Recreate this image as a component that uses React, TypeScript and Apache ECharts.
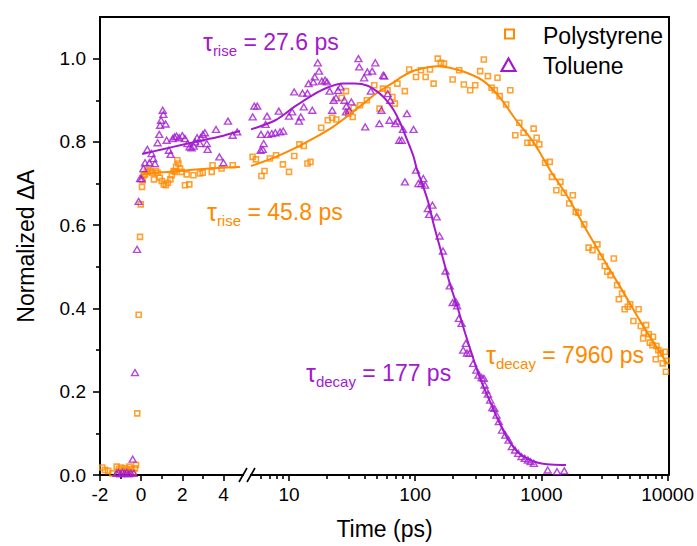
import React, { useEffect, useRef } from 'react';
import * as echarts from 'echarts';

const ORANGE = '#FF8A00';
const PURPLE = '#A21ACF';
const FONT = 'Liberation Sans, Arial, sans-serif';

// time at which the axis switches from linear to logarithmic
const BREAK_T = 5;

// Polystyrene data (time in ps, normalized ΔA)
const psTime = [
  -1.89, -1.76, -1.6, -1.4, -1.19, -1.08, -0.98, -0.88, -0.78, -0.68, -0.58, -0.48, -0.38, -0.3, -0.25,
  -0.19, -0.12, -0.055, -0.02, 0.04, 0.07, 0.12, 0.19, 0.27, 0.35, 0.45, 0.55, 0.62, 0.72, 0.8, 0.9,
  1.0, 1.1, 1.2, 1.3, 1.42, 1.49, 1.58, 1.65, 1.7, 1.76, 1.81, 1.89, 1.97, 2.13, 2.21, 2.34, 2.54,
  2.86, 2.99, 3.43, 3.47, 3.91, 4.45,
  5.15, 5.47, 6.05, 6.4, 7.05, 7.9, 8.95, 10.0, 11.0, 12.1, 13.1, 14.0, 14.8, 18.0, 20.3, 22.0, 23.7,
  26.1, 28.3, 29.5, 32.0, 32.5, 36.6, 41.4, 47.4, 52.2, 55.6, 60.4, 66, 69, 72.3, 82.8, 89.6, 101.5,
  111, 121, 131, 140, 151, 160, 169, 198, 223, 243, 273, 299, 327, 350, 377, 403, 428, 449, 467, 526,
  567, 621, 669, 722, 775, 826, 868, 917, 963, 1071, 1165, 1213, 1314, 1415, 1507, 1663, 1775, 1871,
  1967, 2183, 2365, 2542, 2780, 2955, 3175, 3330, 3530, 3750, 3980, 4110, 4360, 4570, 4840, 5050,
  5360, 5890, 6130, 6400, 6500, 6760, 7100, 7230, 7580, 7660, 8060, 8160, 8450, 8820, 9150, 9540,
  9700, 9850,
];
const psValue = [
  0.018, 0.012, 0.01, 0.004, 0.02, 0.014, 0.018, 0.01, 0.016, 0.012, 0.02, 0.014, 0.006, 0.016, 0.024,
  0.148, 0.385, 0.572, 0.65, 0.692, 0.708, 0.72, 0.722, 0.728, 0.732, 0.73, 0.726, 0.71, 0.73, 0.726, 0.714,
  0.706, 0.698, 0.696, 0.702, 0.71, 0.72, 0.73, 0.728, 0.74, 0.756, 0.748, 0.736, 0.728, 0.696, 0.722, 0.698, 0.72,
  0.724, 0.726, 0.728, 0.744, 0.736, 0.744,
  0.764, 0.758, 0.718, 0.73, 0.76, 0.768, 0.746, 0.728, 0.766, 0.794, 0.79, 0.748, 0.752, 0.834, 0.852, 0.858, 0.854,
  0.906, 0.922, 0.868, 0.86, 0.882, 0.888, 0.9, 0.936, 0.88, 0.928, 0.924, 0.908, 0.892, 0.94, 0.922, 0.974, 0.956,
  0.972, 0.956, 0.974, 0.94, 1.0, 0.99, 0.988, 0.95, 0.972, 0.938, 0.924, 0.936, 0.97, 0.998, 0.958, 0.93, 0.924, 0.954, 0.91, 0.89,
  0.924, 0.816, 0.846, 0.822, 0.798, 0.798, 0.832, 0.81, 0.794, 0.75, 0.752, 0.716, 0.684, 0.704, 0.678, 0.652, 0.672, 0.632,
  0.63, 0.602, 0.546, 0.54, 0.554, 0.524, 0.502, 0.488, 0.48, 0.52, 0.456, 0.422, 0.436, 0.398, 0.404, 0.41,
  0.37, 0.398, 0.358, 0.328, 0.342, 0.36, 0.338, 0.318, 0.312, 0.332, 0.278, 0.31, 0.3, 0.292, 0.268, 0.296,
  0.248, 0.274,
];

// Toluene data
const tolTime = [
  -1.2, -1.1, -1.0, -0.9, -0.8, -0.7, -0.6, -0.5, -0.41, -0.36, -0.3, -0.2, -0.12, -0.05, 0.02, 0.11,
  0.19, 0.3, 0.4, 0.51, 0.59, 0.67, 0.8, 0.88, 0.92, 0.97, 1.05, 1.08, 1.19, 1.24, 1.35, 1.43, 1.53,
  1.62, 1.72, 1.85, 2.0, 2.13, 2.25, 2.35, 2.45, 2.55, 2.62, 2.72, 2.86, 2.9, 3.0, 3.1, 3.19, 3.23,
  3.64, 3.8, 4.0, 4.22, 4.45, 4.67,
  5.16, 5.31, 5.6, 5.96, 6.0, 6.2, 6.3, 6.53, 6.7, 6.8, 7.3, 7.8, 8.3, 8.5, 9.0, 10.0, 10.6, 11.0,
  12.0, 12.4, 12.8, 13.1, 14.0, 14.3, 15.3, 15.6, 16.0, 16.9, 17.3, 18.2, 19.3, 20.0, 21.0, 22.0,
  22.6, 23.6, 24.5, 25.6, 27.5, 28.3, 28.5, 30.0, 31.2, 35.5, 36.0, 39.4, 40.2, 41.8, 44.5, 45.6,
  48.3, 52.0, 54.0, 55.8, 56.8, 60.6, 62.6, 63.5, 69.5, 72.0, 74.8, 78.3, 80.0, 82.9, 86.0, 97.1,
  101.5, 106, 112, 116, 120, 126, 129, 137, 148, 156, 166, 174, 188, 198, 210, 215, 222, 233, 240,
  252, 257, 269, 288, 305, 318, 336, 350, 355, 364, 377, 393, 409, 424, 441, 460, 488, 518, 550,
  583, 618, 655, 695, 738, 783, 821, 871, 1122, 1330, 1517,
];
const tolValue = [
  0.004, 0.006, 0.003, 0.006, 0.004, 0.006, 0.003, 0.005, 0.038, 0.004, 0.246, 0.542, 0.657, 0.712, 0.712, 0.736,
  0.75, 0.782, 0.75, 0.772, 0.76, 0.748, 0.798, 0.818, 0.84, 0.852, 0.876, 0.866, 0.843, 0.804, 0.78, 0.77, 0.808,
  0.812, 0.814, 0.81, 0.815, 0.808, 0.796, 0.788, 0.786, 0.79, 0.8, 0.81, 0.796, 0.81, 0.818, 0.822, 0.796, 0.782,
  0.83, 0.764, 0.75, 0.85, 0.816, 0.824,
  0.86, 0.886, 0.886, 0.78, 0.818, 0.782, 0.796, 0.842, 0.862, 0.818, 0.82, 0.822, 0.874, 0.824, 0.826, 0.862, 0.872, 0.92,
  0.85, 0.86, 0.917, 0.884, 0.917, 0.94, 0.876, 0.944, 0.956, 0.99, 0.97, 0.946, 0.948, 0.944, 0.922, 0.876,
  0.9, 0.906, 0.924, 0.932, 0.9, 0.872, 0.886, 0.876, 0.896, 1.0, 0.98, 0.954, 0.836, 0.968, 0.922, 0.97,
  0.99, 0.844, 0.876, 0.96, 0.958, 0.916, 0.852, 0.9, 0.844, 0.85, 0.804, 0.804, 0.83, 0.704, 0.868, 0.83,
  0.732, 0.7, 0.7, 0.712, 0.696, 0.64, 0.626, 0.648, 0.62, 0.574, 0.538, 0.49, 0.454, 0.414, 0.416, 0.406, 0.376, 0.364, 0.3,
  0.316, 0.293, 0.292, 0.268, 0.252, 0.24, 0.234, 0.232, 0.216, 0.204, 0.194, 0.18, 0.162, 0.16, 0.144, 0.128, 0.108, 0.096, 0.084,
  0.068, 0.06, 0.052, 0.044, 0.04, 0.036, 0.032, 0.028, 0.012, 0.008, 0.01,
];

// Fit curves
const psFitTime = [
  0.05, 1, 2, 3, 4, 4.8,
  5, 7, 9, 12, 16, 22, 30, 40, 50, 65, 80, 100, 150, 188, 256, 349, 465, 632, 861, 1000, 1173, 1600,
  2180, 3000, 4360, 6000, 8000, 10000,
];
const psFitValue = [
  0.722, 0.727, 0.731, 0.735, 0.738, 0.74,
  0.742, 0.758, 0.772, 0.79, 0.81, 0.835, 0.865, 0.895, 0.918, 0.94, 0.958, 0.972, 0.982, 0.978, 0.966, 0.946, 0.908, 0.852, 0.8, 0.768, 0.732, 0.67,
  0.598, 0.526, 0.444, 0.372, 0.312, 0.266,
];
const tolFitTime = [
  0.05, 1, 2, 3, 4, 4.8,
  5, 7.8, 11, 15.3, 20, 27, 33, 42, 52.5, 60, 67.7, 76, 86, 97, 103, 115, 127, 139, 162, 188, 218,
  240, 280, 323, 387, 454, 539, 644, 771, 925, 1110, 1566,
];
const tolFitValue = [
  0.771, 0.782, 0.793, 0.804, 0.815, 0.826,
  0.83, 0.852, 0.884, 0.912, 0.93, 0.94, 0.94, 0.935, 0.916, 0.898, 0.876, 0.846, 0.806, 0.765, 0.735, 0.695, 0.655, 0.606, 0.532, 0.46, 0.4,
  0.356, 0.292, 0.236, 0.18, 0.132, 0.088, 0.056, 0.04, 0.03, 0.026, 0.024,
];

// Axis ticks
const linearTicks = [-2, 0, 2, 4];
const linearMinorTicks = [-1, 1, 3];
const logTicks = [10, 100, 1000, 10000];
const logMinorTicks = [6, 7, 8, 9, 20, 30, 40, 50, 60, 70, 80, 90, 200, 300, 400, 500, 600, 700, 800, 900,
  2000, 3000, 4000, 5000, 6000, 7000, 8000, 9000];
const yTicks = [0, 0.2, 0.4, 0.6, 0.8, 1.0];
const yMinorTicks = [0.1, 0.3, 0.5, 0.7, 0.9];

const pairs = (t: number[], v: number[]) => t.map((x, i) => [x, v[i]]);
const linPart = (t: number[], v: number[]) => pairs(t, v).filter((p) => p[0] < BREAK_T);
const logPart = (t: number[], v: number[]) => pairs(t, v).filter((p) => p[0] >= BREAK_T);

const axisLineStyle = { color: '#000', width: 2 };
const tickLine = { color: '#000', width: 1.6 };
const labelStyle = { color: '#000', fontSize: 19, fontFamily: FONT };
const MINOR_LEN = 4;

function buildOption(): any {
  const psMarker = {
    type: 'scatter',
    name: 'Polystyrene',
    symbol: 'rect',
    symbolSize: 5,
    itemStyle: { color: 'rgba(0,0,0,0)', borderColor: ORANGE, borderWidth: 1.6 },
    silent: true,
    z: 2,
  };
  const tolMarker = {
    type: 'scatter',
    name: 'Toluene',
    symbol: 'triangle',
    symbolSize: [7, 6],
    itemStyle: { color: 'rgba(0,0,0,0)', borderColor: PURPLE, borderWidth: 1.4 },
    silent: true,
    z: 2,
  };
  const fitLine = (name: string, color: string) => ({
    type: 'line',
    name,
    showSymbol: false,
    symbol: 'none',
    smooth: 0.3,
    lineStyle: { color, width: 2 },
    silent: true,
    z: 3,
  });

  const tauText = (x: number, y: number, sub: string, rest: string, color: string) => ({
    type: 'text',
    x,
    y,
    silent: true,
    style: {
      text: `{t|τ}{s|${sub}}{m| ${rest}}`,
      align: 'left',
      verticalAlign: 'middle',
      rich: {
        t: { fontSize: 25, lineHeight: 32, fill: color, fontFamily: FONT, verticalAlign: 'middle' },
        s: { fontSize: 15, lineHeight: 18, fill: color, fontFamily: FONT, verticalAlign: 'bottom' },
        m: { fontSize: 23, lineHeight: 32, fill: color, fontFamily: FONT, verticalAlign: 'middle' },
      },
    },
  });

  const hidden = { axisTick: { show: false }, axisLabel: { show: false }, splitLine: { show: false } };

  return {
    animation: false,
    backgroundColor: '#fff',
    grid: [
      { left: 100, top: 17, width: 143, height: 458 },
      { left: 251, top: 17, width: 418, height: 458 },
      { left: 100, top: 17, width: 569, height: 458 },
    ],
    xAxis: [
      {
        gridIndex: 0, type: 'value', min: -2, max: 4.95, interval: 2, position: 'bottom',
        axisLine: { onZero: false, lineStyle: axisLineStyle },
        axisTick: { customValues: linearTicks, length: 6, lineStyle: tickLine },
        axisLabel: { customValues: linearTicks, margin: 10, ...labelStyle, formatter: (v: number) => String(v) },
        splitLine: { show: false },
      },
      {
        gridIndex: 0, type: 'value', min: -2, max: 4.95, interval: 2, position: 'bottom',
        axisLine: { onZero: false, lineStyle: axisLineStyle },
        axisTick: { customValues: linearMinorTicks, length: MINOR_LEN, lineStyle: tickLine },
        axisLabel: { show: false },
        splitLine: { show: false },
      },
      {
        gridIndex: 1, type: 'log', logBase: 10, min: 5, max: 10000, position: 'bottom',
        axisLine: { onZero: false, lineStyle: axisLineStyle },
        axisTick: { customValues: logTicks, length: 6, lineStyle: tickLine },
        axisLabel: { customValues: logTicks, margin: 10, ...labelStyle, formatter: (v: number) => String(Math.round(v)) },
        splitLine: { show: false },
      },
      {
        gridIndex: 1, type: 'log', logBase: 10, min: 5, max: 10000, position: 'bottom',
        axisLine: { onZero: false, lineStyle: axisLineStyle },
        axisTick: { customValues: logMinorTicks, length: MINOR_LEN, lineStyle: tickLine },
        axisLabel: { show: false },
        splitLine: { show: false },
      },
      {
        gridIndex: 2, type: 'value', min: 0, max: 1, position: 'top',
        axisLine: { onZero: false, lineStyle: axisLineStyle },
        ...hidden,
      },
      {
        gridIndex: 2, type: 'value', min: 0, max: 1, position: 'bottom',
        name: 'Time (ps)', nameLocation: 'middle', nameGap: 42,
        nameTextStyle: { color: '#000', fontSize: 23, fontFamily: FONT },
        axisLine: { show: false, onZero: false },
        ...hidden,
      },
    ],
    yAxis: [
      {
        gridIndex: 0, type: 'value', min: 0, max: 1.1, interval: 0.2, position: 'left',
        name: 'Normalized ΔA', nameLocation: 'middle', nameGap: 63, nameRotate: 90,
        nameTextStyle: { color: '#000', fontSize: 23, fontFamily: FONT },
        axisLine: { onZero: false, lineStyle: axisLineStyle },
        axisTick: { customValues: yTicks, length: 7, lineStyle: tickLine },
        axisLabel: { customValues: yTicks, margin: 14, ...labelStyle, formatter: (v: number) => v.toFixed(1) },
        splitLine: { show: false },
      },
      {
        gridIndex: 0, type: 'value', min: 0, max: 1.1, interval: 0.2, position: 'left',
        axisLine: { onZero: false, lineStyle: axisLineStyle },
        axisTick: { customValues: yMinorTicks, length: MINOR_LEN, lineStyle: tickLine },
        axisLabel: { show: false },
        splitLine: { show: false },
      },
      { gridIndex: 1, type: 'value', min: 0, max: 1.1, show: false },
      {
        gridIndex: 2, type: 'value', min: 0, max: 1, position: 'right',
        axisLine: { onZero: false, lineStyle: axisLineStyle },
        ...hidden,
      },
    ],
    series: [
      { ...psMarker, xAxisIndex: 0, yAxisIndex: 0, data: linPart(psTime, psValue) },
      { ...psMarker, xAxisIndex: 2, yAxisIndex: 2, data: logPart(psTime, psValue) },
      { ...tolMarker, xAxisIndex: 0, yAxisIndex: 0, data: linPart(tolTime, tolValue) },
      { ...tolMarker, xAxisIndex: 2, yAxisIndex: 2, data: logPart(tolTime, tolValue) },
      { ...fitLine('Polystyrene fit', ORANGE), xAxisIndex: 0, yAxisIndex: 0, data: linPart(psFitTime, psFitValue) },
      { ...fitLine('Polystyrene fit', ORANGE), xAxisIndex: 2, yAxisIndex: 2, data: logPart(psFitTime, psFitValue) },
      { ...fitLine('Toluene fit', PURPLE), xAxisIndex: 0, yAxisIndex: 0, data: linPart(tolFitTime, tolFitValue) },
      { ...fitLine('Toluene fit', PURPLE), xAxisIndex: 2, yAxisIndex: 2, data: logPart(tolFitTime, tolFitValue) },
    ],
    graphic: [
      // axis break marks
      { type: 'line', silent: true, shape: { x1: 239, y1: 482, x2: 247, y2: 468 }, style: { stroke: '#000', lineWidth: 1.6 } },
      { type: 'line', silent: true, shape: { x1: 247, y1: 482, x2: 255, y2: 468 }, style: { stroke: '#000', lineWidth: 1.6 } },
      // legend
      { type: 'rect', silent: true, shape: { x: 505, y: 29.5, width: 9, height: 9 }, style: { fill: 'none', stroke: ORANGE, lineWidth: 2 } },
      { type: 'polygon', silent: true, shape: { points: [[508.5, 58.5], [515.5, 71], [501.5, 71]] }, style: { fill: 'none', stroke: PURPLE, lineWidth: 2.2 } },
      { type: 'text', silent: true, x: 543, y: 35.5, style: { text: 'Polystyrene', fill: '#000', fontSize: 23, fontFamily: FONT, align: 'left', verticalAlign: 'middle' } },
      { type: 'text', silent: true, x: 543, y: 66, style: { text: 'Toluene', fill: '#000', fontSize: 23, fontFamily: FONT, align: 'left', verticalAlign: 'middle' } },
      // time constants
      tauText(203, 42, 'rise', '= 27.6 ps', PURPLE),
      tauText(207, 212, 'rise', '= 45.8 ps', ORANGE),
      tauText(306, 373, 'decay', '= 177 ps', PURPLE),
      tauText(486, 355, 'decay', '= 7960 ps', ORANGE),
    ],
  };
}

export default function App() {
  const ref = useRef<HTMLDivElement>(null);
  useEffect(() => {
    if (!ref.current) return;
    const chart = echarts.init(ref.current, null, { renderer: 'svg' });
    chart.setOption(buildOption());
    return () => chart.dispose();
  }, []);
  return <div ref={ref} style={{ position: 'fixed', left: 0, top: 0, width: 697, height: 546 }} />;
}
